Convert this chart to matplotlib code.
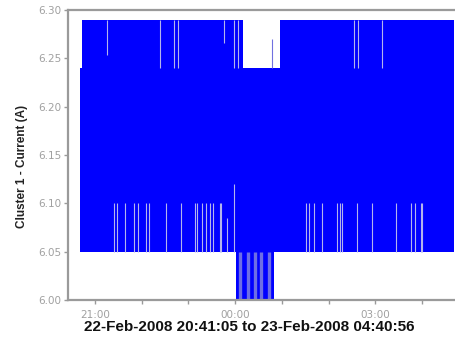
import pandas as pd
import matplotlib
matplotlib.use("Agg")
import matplotlib.pyplot as plt
import matplotlib.dates as mdates

plt.rcParams["font.family"] = ["Liberation Sans", "DejaVu Sans"]

# Envelope of the current signal (step values, each holds until the next time)
upper_times = ["2008-02-22 20:41:05", "2008-02-22 20:44", "2008-02-23 00:10",
               "2008-02-23 00:58", "2008-02-23 04:40:56"]
upper_vals = [6.24, 6.29, 6.24, 6.29, 6.29]
lower_times = ["2008-02-22 20:41:05", "2008-02-23 00:01", "2008-02-23 00:50",
               "2008-02-23 04:40:56"]
lower_vals = [6.05, 6.00, 6.05, 6.05]

# Short moments where the peak stayed lower than 6.29
top_dip_times = ["2008-02-22 21:15", "2008-02-22 22:23", "2008-02-22 22:42",
                 "2008-02-22 22:46", "2008-02-22 23:45", "2008-02-22 23:59",
                 "2008-02-23 00:03", "2008-02-23 02:33", "2008-02-23 02:38",
                 "2008-02-23 03:08"]
top_dip_vals = [6.253, 6.24, 6.24, 6.24, 6.266, 6.24, 6.24, 6.24, 6.24, 6.24]

# Spike inside the low-peak period
top_spike_times = ["2008-02-23 00:47"]
top_spike_vals = [6.27]

# Short moments where the minimum stayed above 6.05
low_gap_times = ["2008-02-22 21:25", "2008-02-22 21:29", "2008-02-22 21:38",
                 "2008-02-22 21:50", "2008-02-22 21:55", "2008-02-22 22:06",
                 "2008-02-22 22:09", "2008-02-22 22:31", "2008-02-22 22:51",
                 "2008-02-22 23:08", "2008-02-22 23:11", "2008-02-22 23:17",
                 "2008-02-22 23:23", "2008-02-22 23:28", "2008-02-22 23:31",
                 "2008-02-22 23:40", "2008-02-22 23:42", "2008-02-22 23:50",
                 "2008-02-22 23:58",
                 "2008-02-23 01:31", "2008-02-23 01:35", "2008-02-23 01:41",
                 "2008-02-23 01:51", "2008-02-23 02:10", "2008-02-23 02:15",
                 "2008-02-23 02:17", "2008-02-23 02:36", "2008-02-23 02:55",
                 "2008-02-23 03:26", "2008-02-23 03:46", "2008-02-23 03:51",
                 "2008-02-23 03:58", "2008-02-23 04:00"]
low_gap_vals = [6.10] * 17 + [6.085, 6.12] + [6.10] * 14

# Lighter stripes in the dense low period just after midnight
dense_stripe_times = ["2008-02-23 00:06", "2008-02-23 00:16", "2008-02-23 00:25",
                      "2008-02-23 00:33", "2008-02-23 00:44"]

y_ticks = [6.00, 6.05, 6.10, 6.15, 6.20, 6.25, 6.30]
x_label = "22-Feb-2008 20:41:05 to 23-Feb-2008 04:40:56"
y_label = "Cluster 1 - Current (A)"


def to_dt(values):
    return pd.to_datetime(values, format="mixed")


# Build common step envelope
up = pd.Series(upper_vals, index=to_dt(upper_times))
lo = pd.Series(lower_vals, index=to_dt(lower_times))
idx = up.index.union(lo.index)
up = up.reindex(idx).ffill()
lo = lo.reindex(idx).ffill()

blue = "#0000ff"
gap_color = "#b4b4ec"
spine_color = "#9a9a9a"

fig = plt.figure(figsize=(4.55, 3.44), dpi=100)
ax = fig.add_axes([68 / 455, 1 - 300 / 344, 1 - 68 / 455, 290 / 344])

ax.fill_between(idx, lo.values, up.values, step="post", color=blue, linewidth=0)

ax.vlines(to_dt(top_dip_times), top_dip_vals, 6.29, color=gap_color, linewidth=0.8)
ax.vlines(to_dt(top_spike_times), 6.24, top_spike_vals, color="#7070e0", linewidth=0.8)
ax.vlines(to_dt(low_gap_times), 6.05, low_gap_vals, color=gap_color, linewidth=0.8)
ax.vlines(to_dt(dense_stripe_times), 6.00, 6.05, color="#6e6ee4", linewidth=2.4)

ax.set_ylim(6.00, 6.30)
ax.set_xlim(pd.Timestamp("2008-02-22 20:25:30"), pd.Timestamp("2008-02-23 04:42"))
ax.set_yticks(y_ticks)
ax.set_yticklabels([f"{v:.2f}" for v in y_ticks])

ax.xaxis.set_major_locator(mdates.HourLocator(byhour=[0, 3, 21]))
ax.xaxis.set_minor_locator(mdates.HourLocator())
ax.xaxis.set_major_formatter(mdates.DateFormatter("%H:%M"))

ax.tick_params(axis="both", which="both", colors=spine_color, labelcolor="#a0a0a0",
               labelsize=7.5, length=3, width=1)
ax.tick_params(axis="x", pad=4)
ax.tick_params(axis="y", pad=2)
for lab in ax.get_xticklabels() + ax.get_yticklabels():
    lab.set_family("DejaVu Sans")

for side in ["left", "bottom", "top"]:
    ax.spines[side].set_color(spine_color)
    ax.spines[side].set_linewidth(1.6)
ax.spines["right"].set_visible(False)

fig.text(249 / 455, 1 - 327 / 344, x_label, ha="center", va="center", fontsize=11,
         fontweight="bold", color="#111111")
fig.text(22 / 455, 1 - 166 / 344, y_label, ha="center", va="center", rotation=90,
         fontsize=8.5, fontweight="bold", color="#222222")

fig.savefig("out.png", dpi=100)
